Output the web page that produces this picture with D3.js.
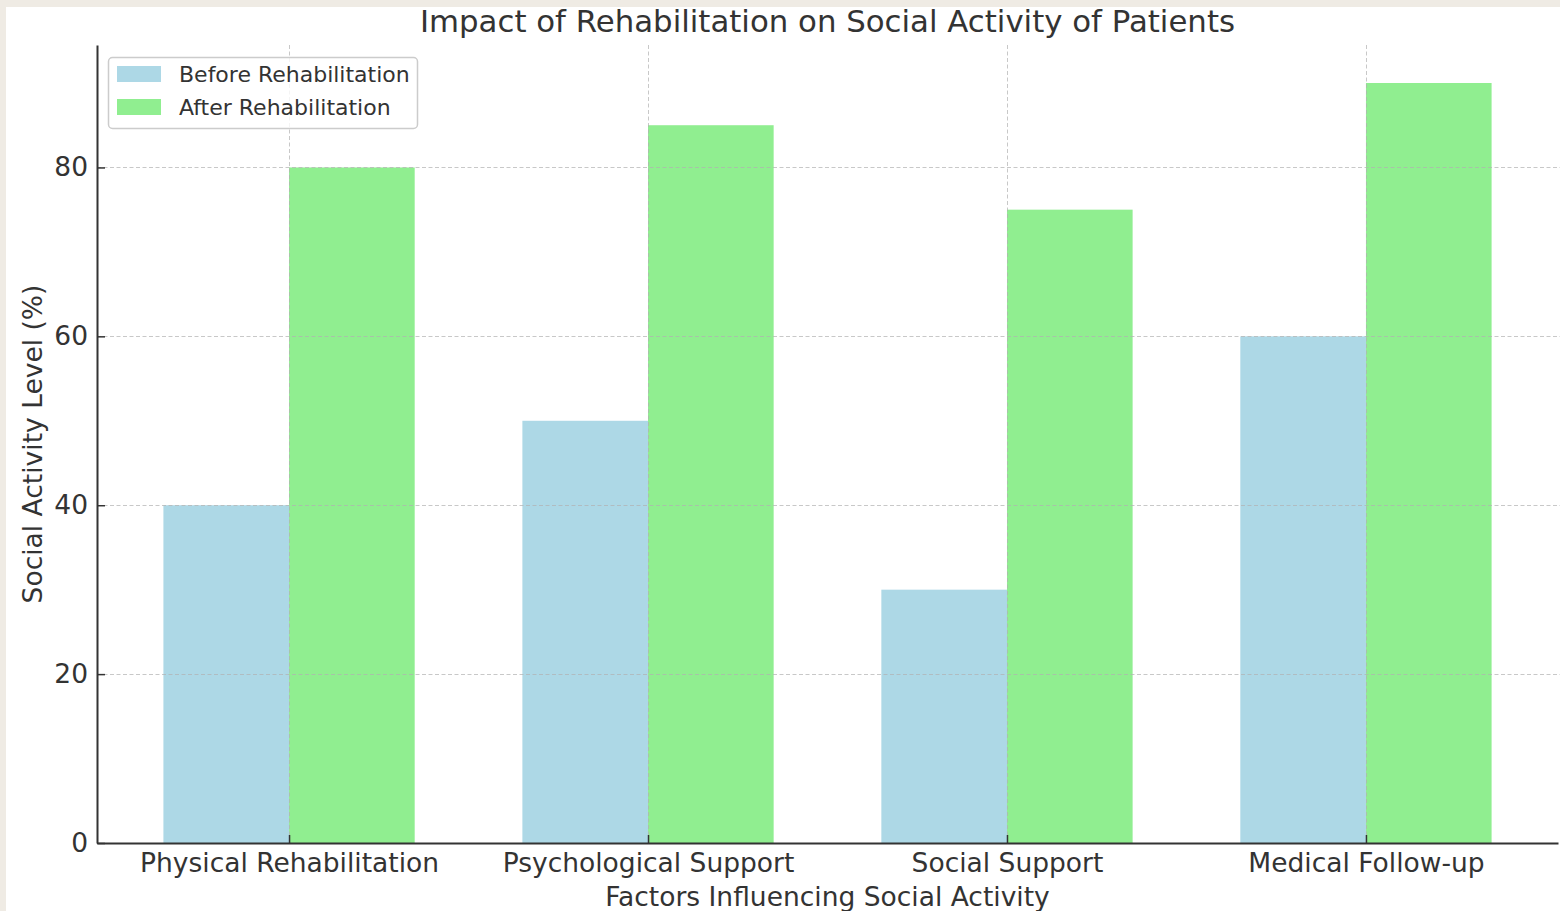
<!DOCTYPE html>
<html>
<head>
<meta charset="utf-8">
<script src="https://cdn.jsdelivr.net/npm/d3@7"></script>
<style>
  html, body { margin: 0; padding: 0; background: #EFEBE4; }
  svg { display: block; }
  text { font-family: "DejaVu Sans", sans-serif; fill: #333333; }
</style>
</head>
<body>
<svg id="chart" width="1560" height="911"></svg>
<script>
const categories = ["Physical Rehabilitation", "Psychological Support", "Social Support", "Medical Follow-up"];
const beforeValues = [40, 50, 30, 60];
const afterValues = [80, 85, 75, 90];
const seriesNames = ["Before Rehabilitation", "After Rehabilitation"];
const seriesColors = ["#ADD8E6", "#90EE90"];
const yTicks = [0, 20, 40, 60, 80];
const titleText = "Impact of Rehabilitation on Social Activity of Patients";
const xLabelText = "Factors Influencing Social Activity";
const yLabelText = "Social Activity Level (%)";

(function () {
const svg = d3.select("#chart");
svg.append("rect").attr("x", 6).attr("y", 7).attr("width", 1554).attr("height", 904).attr("fill", "#ffffff");

const pLeft = 97, pRight = 1558, pTop = 45, pBottom = 843;
const barW = 0.35;
const x = d3.scaleLinear().domain([-0.535, 3.535]).range([pLeft, pRight]);
const y = d3.scaleLinear().domain([0, 94.5]).range([pBottom, pTop]);

const series = [beforeValues, afterValues];
const g = svg.append("g");

series.forEach((vals, si) => {
  g.selectAll(".bar" + si).data(vals).enter().append("rect")
    .attr("x", (d, i) => x(i + (si === 0 ? -barW : 0)))
    .attr("width", (d, i) => x(i + barW) - x(i))
    .attr("y", d => y(d))
    .attr("height", d => y(0) - y(d))
    .attr("fill", seriesColors[si]);
});

const grid = g.append("g").attr("stroke", "#b0b0b0").attr("stroke-opacity", 0.7).attr("stroke-width", 1).attr("stroke-dasharray", "4,2.5");
yTicks.filter(t => t > 0).forEach(t => {
  grid.append("line").attr("x1", pLeft).attr("x2", 1560).attr("y1", Math.round(y(t)) + 0.5).attr("y2", Math.round(y(t)) + 0.5);
});
categories.forEach((c, i) => {
  grid.append("line").attr("y1", pTop).attr("y2", pBottom).attr("x1", Math.round(x(i)) + 0.5).attr("x2", Math.round(x(i)) + 0.5);
});

const yAxis = d3.axisLeft(y).tickValues(yTicks).tickSizeInner(-8).tickSizeOuter(0).tickPadding(9);
const ya = g.append("g").attr("transform", `translate(${pLeft},0)`).call(yAxis);
ya.select(".domain").attr("stroke", "#333").attr("stroke-width", 2);
ya.selectAll(".tick line").attr("stroke", "#333").attr("stroke-width", 1.5);
ya.selectAll(".tick text").attr("font-size", 26.5).attr("font-family", "DejaVu Sans").attr("fill", "#333");

const xAxis = d3.axisBottom(x).tickValues(d3.range(categories.length)).tickFormat(i => categories[i]).tickSizeInner(-8).tickSizeOuter(0).tickPadding(10);
const xa = g.append("g").attr("transform", `translate(0,${pBottom})`).call(xAxis);
xa.select(".domain").attr("stroke", "#333").attr("stroke-width", 2);
xa.selectAll(".tick line").attr("stroke", "#333").attr("stroke-width", 1.5);
xa.selectAll(".tick text").attr("font-size", 26.5).attr("font-family", "DejaVu Sans").attr("fill", "#333");

svg.append("text").attr("x", (pLeft + pRight) / 2).attr("y", 32).attr("text-anchor", "middle").attr("font-size", 30.8).text(titleText);
svg.append("text").attr("x", (pLeft + pRight) / 2).attr("y", 906).attr("text-anchor", "middle").attr("font-size", 26.5).text(xLabelText);
svg.append("text").attr("transform", `translate(42,${(pTop + pBottom) / 2}) rotate(-90)`).attr("text-anchor", "middle").attr("font-size", 26.5).text(yLabelText);

const lg = svg.append("g");
lg.append("rect").attr("x", 108.5).attr("y", 57.5).attr("width", 309).attr("height", 71).attr("rx", 4)
  .attr("fill", "#ffffff").attr("fill-opacity", 0.8).attr("stroke", "#cccccc").attr("stroke-width", 1.5);
seriesNames.forEach((n, i) => {
  lg.append("rect").attr("x", 117).attr("y", 66 + i * 33).attr("width", 44).attr("height", 16).attr("fill", seriesColors[i]);
  lg.append("text").attr("x", 179).attr("y", 82 + i * 33).attr("font-size", 22).text(n);
});
})();
</script>
</body>
</html>
